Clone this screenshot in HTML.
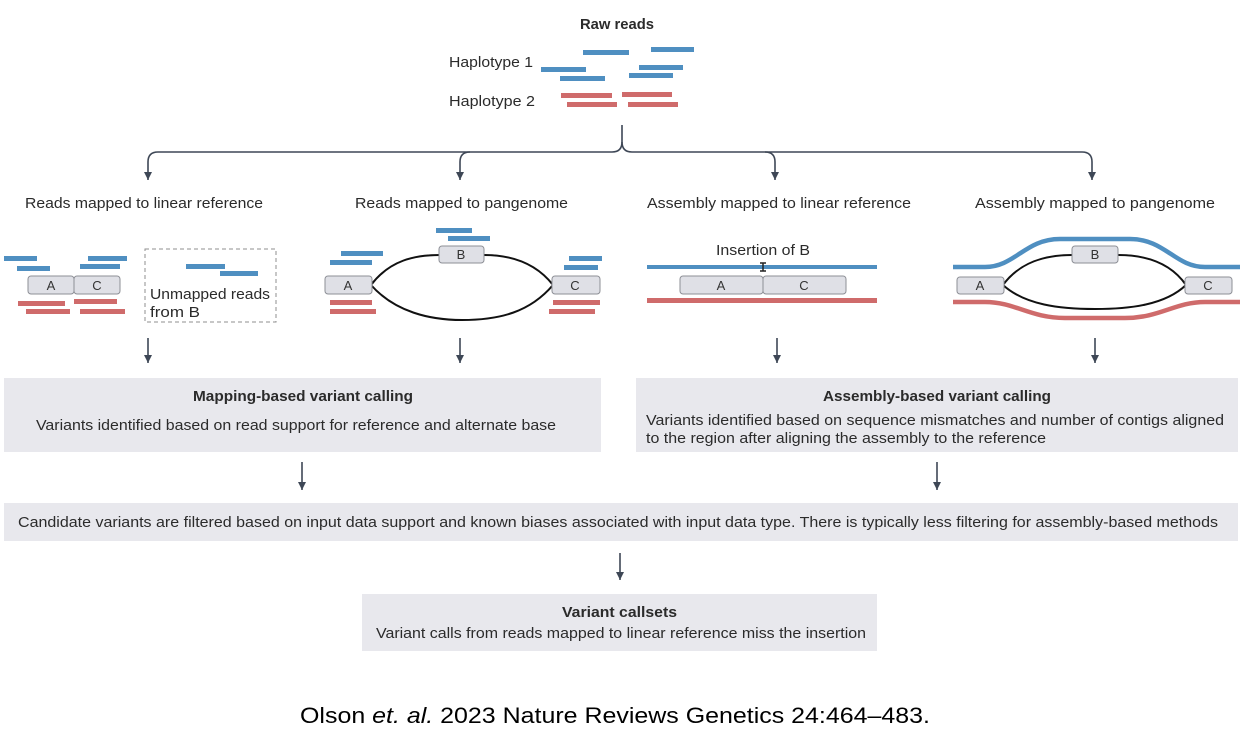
<!DOCTYPE html>
<html><head><meta charset="utf-8"><style>
html,body{margin:0;padding:0;background:#fff;}
svg{display:block;font-family:"Liberation Sans",sans-serif;}
.t{font-size:14.5px;fill:#2b2b2b;}
.b{font-weight:bold;}
.bl{fill:#4f8fc1;}
.rd{fill:#cf6b6b;}
.box{fill:#dfe0e6;stroke:#8d8f96;stroke-width:1;}
.bt{font-size:13px;fill:#333;text-anchor:middle;}
.ar{stroke:#3e4756;stroke-width:1.6;fill:none;}
</style></head><body>
<svg width="1243" height="732" viewBox="0 0 1243 732">
<defs><marker id="ad" markerWidth="8" markerHeight="8" refX="4" refY="8" orient="0" markerUnits="userSpaceOnUse"><path d="M0,0 L8,0 L4,8z" fill="#3e4756"/></marker></defs>

<g>
<text class="t b" x="580" y="29" font-size="13.5" textLength="74" lengthAdjust="spacingAndGlyphs">Raw reads</text>
<text class="t" x="449" y="67" textLength="84" lengthAdjust="spacingAndGlyphs">Haplotype 1</text>
<text class="t" x="449" y="106" textLength="86" lengthAdjust="spacingAndGlyphs">Haplotype 2</text>
<rect class="bl" x="583" y="50" width="46" height="5"/><rect class="bl" x="651" y="47" width="43" height="5"/>
<rect class="bl" x="541" y="67" width="45" height="5"/><rect class="bl" x="639" y="65" width="44" height="5"/>
<rect class="bl" x="560" y="76" width="45" height="5"/><rect class="bl" x="629" y="73" width="44" height="5"/>
<rect class="rd" x="561" y="93" width="51" height="5"/><rect class="rd" x="622" y="92" width="50" height="5"/>
<rect class="rd" x="567" y="102" width="50" height="5"/><rect class="rd" x="628" y="102" width="50" height="5"/>
</g>

<g>
<path class="ar" d="M622,125 V142 Q622,152 612,152 H158 Q148,152 148,162 V180" marker-end="url(#ad)"/>
<path class="ar" d="M622,142 Q622,152 632,152 H1082 Q1092,152 1092,162 V180" marker-end="url(#ad)"/>
<path class="ar" d="M470,152 Q460,152 460,162 V180" marker-end="url(#ad)"/>
<path class="ar" d="M765,152 Q775,152 775,162 V180" marker-end="url(#ad)"/>
</g>

<text class="t" x="25" y="208" textLength="238" lengthAdjust="spacingAndGlyphs">Reads mapped to linear reference</text>
<text class="t" x="355" y="208" textLength="213" lengthAdjust="spacingAndGlyphs">Reads mapped to pangenome</text>
<text class="t" x="647" y="208" textLength="264" lengthAdjust="spacingAndGlyphs">Assembly mapped to linear reference</text>
<text class="t" x="975" y="208" textLength="240" lengthAdjust="spacingAndGlyphs">Assembly mapped to pangenome</text>

<g>
<rect class="bl" x="4" y="256" width="33" height="5"/><rect class="bl" x="17" y="266" width="33" height="5"/>
<rect class="bl" x="88" y="256" width="39" height="5"/><rect class="bl" x="80" y="264" width="40" height="5"/>
<rect class="box" x="28" y="276" width="46" height="18" rx="3"/><text class="bt" x="51" y="290">A</text>
<rect class="box" x="74" y="276" width="46" height="18" rx="3"/><text class="bt" x="97" y="290">C</text>
<rect class="rd" x="18" y="301" width="47" height="5"/><rect class="rd" x="26" y="309" width="44" height="5"/>
<rect class="rd" x="74" y="299" width="43" height="5"/><rect class="rd" x="80" y="309" width="45" height="5"/>
<rect x="145" y="249" width="131" height="73" fill="none" stroke="#8f8f8f" stroke-dasharray="4,3"/>
<rect class="bl" x="186" y="264" width="39" height="5"/><rect class="bl" x="220" y="271" width="38" height="5"/>
<text class="t" x="150" y="299" textLength="120" lengthAdjust="spacingAndGlyphs">Unmapped reads</text><text class="t" x="150" y="317" textLength="50" lengthAdjust="spacingAndGlyphs">from B</text>
</g>

<g>
<path d="M371,285 C390,260 415,255 440,255 M484,255 C510,255 535,262 553,285 M371,285 C395,312 430,320 462,320 C500,320 530,312 553,285" stroke="#111" stroke-width="2" fill="none"/>
<rect class="box" x="325" y="276" width="47" height="18" rx="3"/><text class="bt" x="348" y="290">A</text>
<rect class="box" x="552" y="276" width="48" height="18" rx="3"/><text class="bt" x="575" y="290">C</text>
<rect class="box" x="439" y="246" width="45" height="17" rx="3"/><text class="bt" x="461" y="259">B</text>
<rect class="bl" x="341" y="251" width="42" height="5"/><rect class="bl" x="330" y="260" width="42" height="5"/>
<rect class="bl" x="436" y="228" width="36" height="5"/><rect class="bl" x="448" y="236" width="42" height="5"/>
<rect class="bl" x="569" y="256" width="33" height="5"/><rect class="bl" x="564" y="265" width="34" height="5"/>
<rect class="rd" x="330" y="300" width="42" height="5"/><rect class="rd" x="330" y="309" width="46" height="5"/>
<rect class="rd" x="553" y="300" width="47" height="5"/><rect class="rd" x="549" y="309" width="46" height="5"/>
</g>

<g>
<text class="t" x="716" y="255" textLength="94" lengthAdjust="spacingAndGlyphs">Insertion of B</text>
<rect class="bl" x="647" y="265" width="230" height="4"/>
<path d="M760,263 H766 M763,263 V271 M760,271 H766" stroke="#222" stroke-width="1.5"/>
<rect class="box" x="680" y="276" width="83" height="18" rx="3"/><text class="bt" x="721" y="290">A</text>
<rect class="box" x="763" y="276" width="83" height="18" rx="3"/><text class="bt" x="804" y="290">C</text>
<rect class="rd" x="647" y="298" width="230" height="5"/>
</g>

<g>
<path d="M953,267 H985 C1015,267 1025,239 1060,239 H1130 C1165,239 1175,267 1205,267 H1240" stroke="#4f8fc1" stroke-width="4.5" fill="none"/>
<path d="M953,302 H985 C1015,302 1030,318 1065,318 H1125 C1160,318 1175,302 1205,302 H1240" stroke="#cf6b6b" stroke-width="4.5" fill="none"/>
<path d="M1003,285 C1020,262 1045,255 1072,255 M1118,255 C1145,255 1170,262 1186,285 M1003,285 C1025,305 1060,309 1095,309 C1130,309 1165,305 1186,285" stroke="#111" stroke-width="2" fill="none"/>
<rect class="box" x="957" y="277" width="47" height="17" rx="3"/><text class="bt" x="980" y="290">A</text>
<rect class="box" x="1185" y="277" width="47" height="17" rx="3"/><text class="bt" x="1208" y="290">C</text>
<rect class="box" x="1072" y="246" width="46" height="17" rx="3"/><text class="bt" x="1095" y="259">B</text>
</g>

<g>
<path class="ar" d="M148,338 V363" marker-end="url(#ad)"/>
<path class="ar" d="M460,338 V363" marker-end="url(#ad)"/>
<path class="ar" d="M777,338 V363" marker-end="url(#ad)"/>
<path class="ar" d="M1095,338 V363" marker-end="url(#ad)"/>
</g>

<g>
<rect x="4" y="378" width="597" height="74" fill="#e8e8ed"/>
<text class="t b" x="193" y="401" textLength="220" lengthAdjust="spacingAndGlyphs">Mapping-based variant calling</text>
<text class="t" x="36" y="430" textLength="520" lengthAdjust="spacingAndGlyphs">Variants identified based on read support for reference and alternate base</text>
</g>
<g>
<rect x="636" y="378" width="602" height="74" fill="#e8e8ed"/>
<text class="t b" x="823" y="401" textLength="228" lengthAdjust="spacingAndGlyphs">Assembly-based variant calling</text>
<text class="t" x="646" y="425" textLength="578" lengthAdjust="spacingAndGlyphs">Variants identified based on sequence mismatches and number of contigs aligned</text>
<text class="t" x="646" y="443" textLength="400" lengthAdjust="spacingAndGlyphs">to the region after aligning the assembly to the reference</text>
</g>

<path class="ar" d="M302,462 V490" marker-end="url(#ad)"/>
<path class="ar" d="M937,462 V490" marker-end="url(#ad)"/>

<g>
<rect x="4" y="503" width="1234" height="38" fill="#e8e8ed"/>
<text class="t" x="18" y="527" textLength="1200" lengthAdjust="spacingAndGlyphs">Candidate variants are filtered based on input data support and known biases associated with input data type. There is typically less filtering for assembly-based methods</text>
</g>

<path class="ar" d="M620,553 V580" marker-end="url(#ad)"/>

<g>
<rect x="362" y="594" width="515" height="57" fill="#e8e8ed"/>
<text class="t b" x="562" y="617" textLength="115" lengthAdjust="spacingAndGlyphs">Variant callsets</text>
<text class="t" x="376" y="638" textLength="490" lengthAdjust="spacingAndGlyphs">Variant calls from reads mapped to linear reference miss the insertion</text>
</g>

<text x="300" y="723" font-size="22" fill="#000" textLength="630" lengthAdjust="spacingAndGlyphs">Olson <tspan font-style="italic">et. al.</tspan> 2023 Nature Reviews Genetics 24:464–483.</text>
</svg>
</body></html>
